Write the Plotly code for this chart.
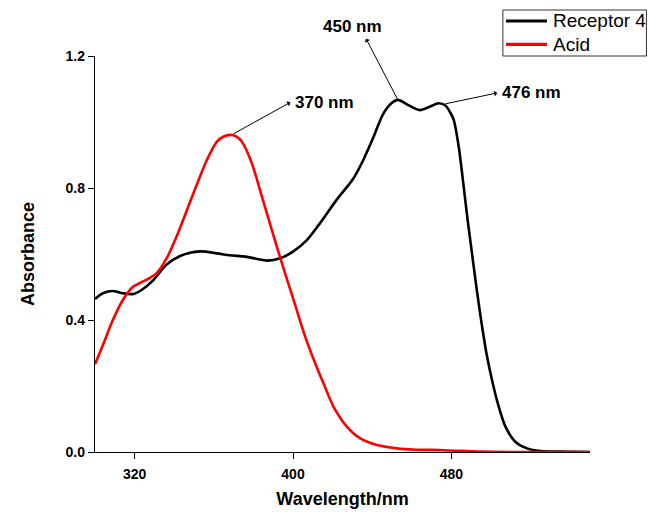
import plotly.graph_objects as go

# Receptor 4 (black)
rec_wl = [300, 304, 309, 314, 319.5, 323.5, 329.5, 336, 343, 353, 361.5, 368, 376, 382, 387,
          393.5, 400, 407, 413.5, 422, 430.5, 435.5, 440.5, 445.5, 450, 453, 458, 464, 469,
          473.5, 477, 479.5, 481.2, 483.7, 486.2, 488.2, 490.4, 492.6, 495, 497.7, 500.5,
          503.4, 507.3, 512.3, 518.2, 525, 535, 550]
rec_abs = [0.464, 0.481, 0.488, 0.481, 0.479, 0.491, 0.521, 0.567, 0.594, 0.608, 0.602, 0.596,
           0.592, 0.585, 0.580, 0.587, 0.607, 0.642, 0.692, 0.764, 0.829, 0.885, 0.952, 1.024,
           1.058, 1.067, 1.052, 1.036, 1.046, 1.057, 1.050, 1.028, 1.006, 0.925, 0.804, 0.703,
           0.602, 0.501, 0.400, 0.299, 0.218, 0.148, 0.077, 0.031, 0.011, 0.003, 0.001, 0.0]

# Acid (red)
acid_wl = [300, 304, 309, 314, 319, 324, 331, 336, 341, 349.7, 356.5, 361.5, 365, 368.5,
           371, 374.2, 379.2, 384.3, 389.3, 394.4, 400.3, 406.2, 411.2, 415.4, 420.5, 427.2,
           434, 442.4, 452.5, 462, 474, 482, 495, 510, 550]
acid_abs = [0.266, 0.324, 0.400, 0.460, 0.500, 0.516, 0.541, 0.585, 0.650, 0.784, 0.885,
            0.940, 0.956, 0.961, 0.957, 0.940, 0.875, 0.774, 0.673, 0.572, 0.461, 0.349, 0.269,
            0.208, 0.137, 0.077, 0.041, 0.021, 0.011, 0.007, 0.006, 0.004, 0.001, 0.0, 0.0]

series_names = ["Receptor 4", "Acid"]
series_colors = ["black", "#ff0000"]

x_ticks = [320, 400, 480]
y_ticks = [0.0, 0.4, 0.8, 1.2]
y_tick_text = ["0.0", "0.4", "0.8", "1.2"]
X_RANGE = [300, 550]
Y_MAX = 1.2

# peak labels: (label, peak wl, peak abs, arrow head wl, arrow head abs, text wl, text abs, anchor)
peak_labels = [
    ("370 nm", 369.9, 0.964, 399.4, 1.062, 400.0, 1.058, "left"),
    ("450 nm", 452.8, 1.069, 436.5, 1.257, 429.8, 1.290, "center"),
    ("476 nm", 476.9, 1.055, 503.9, 1.089, 504.3, 1.089, "left"),
]

FONT = "Liberation Sans, Arial, Helvetica, sans-serif"

fig = go.Figure()
fig.add_trace(go.Scatter(x=rec_wl, y=rec_abs, mode="lines", name=series_names[0],
                         line=dict(color=series_colors[0], width=2.6, shape="spline", smoothing=0.8)))
fig.add_trace(go.Scatter(x=acid_wl, y=acid_abs, mode="lines", name=series_names[1],
                         line=dict(color=series_colors[1], width=2.6, shape="spline", smoothing=0.8)))

annotations = []
for lab, px, py, hx, hy, tx, ty, anc in peak_labels:
    annotations.append(dict(x=px, y=py, xref="x", yref="y", ax=hx, ay=hy, axref="x", ayref="y",
                            text="", showarrow=True, arrowside="start", arrowhead=2,
                            arrowsize=1.7, arrowwidth=1, arrowcolor="black", standoff=0,
                            startstandoff=0))
    annotations.append(dict(x=tx, y=ty / Y_MAX, xref="x", yref="paper", text=lab,
                            showarrow=False, xanchor=anc, yanchor="middle",
                            font=dict(family=FONT, size=17, color="black", weight="bold")))

# legend drawn as a framed box in the upper-right corner (paper coordinates)
shapes = [dict(type="rect", xref="paper", yref="paper", x0=0.824, x1=1.114, y0=1.0, y1=1.1162,
               line=dict(color="#333333", width=1), fillcolor="white", layer="above")]
legend_rows_y = [1.0884, 1.0295]
for name, color, ly in zip(series_names, series_colors, legend_rows_y):
    shapes.append(dict(type="line", xref="paper", yref="paper", x0=0.8303, x1=0.9131,
                       y0=ly, y1=ly, line=dict(color=color, width=3.2), layer="above"))
    annotations.append(dict(x=0.9212, y=ly, xref="paper", yref="paper", text=name,
                            showarrow=False, xanchor="left", yanchor="middle",
                            font=dict(family=FONT, size=19, color="black")))

fig.update_layout(
    width=648, height=512,
    margin=dict(l=95, r=58, t=56, b=60, autoexpand=False),
    paper_bgcolor="white", plot_bgcolor="white",
    font=dict(family=FONT, color="black"),
    showlegend=False,
    annotations=annotations,
    shapes=shapes,
    xaxis=dict(range=X_RANGE, tickvals=x_ticks, showgrid=False, zeroline=False, automargin=False,
               showline=True, linecolor="black", linewidth=1.3, mirror=False,
               ticks="outside", ticklen=6, tickwidth=1.3, tickcolor="black",
               ticklabelstandoff=3,
               tickfont=dict(family=FONT, size=14, color="black", weight="bold"),
               title=dict(text="Wavelength/nm", standoff=11,
                          font=dict(family=FONT, size=18, color="black", weight="bold"))),
    yaxis=dict(range=[0, Y_MAX], tickvals=y_ticks, ticktext=y_tick_text, showgrid=False,
               zeroline=False, showline=True, linecolor="black", linewidth=1.3, mirror=False,
               automargin=False,
               ticks="outside", ticklen=6, tickwidth=1.3, tickcolor="black",
               tickfont=dict(family=FONT, size=14, color="black", weight="bold"),
               title=dict(text="Absorbance", standoff=26,
                          font=dict(family=FONT, size=18, color="black", weight="bold"))),
)

fig.write_html("out.html", config={"displayModeBar": False},
               post_script="document.body.style.margin='0';document.body.style.overflow='hidden';")
